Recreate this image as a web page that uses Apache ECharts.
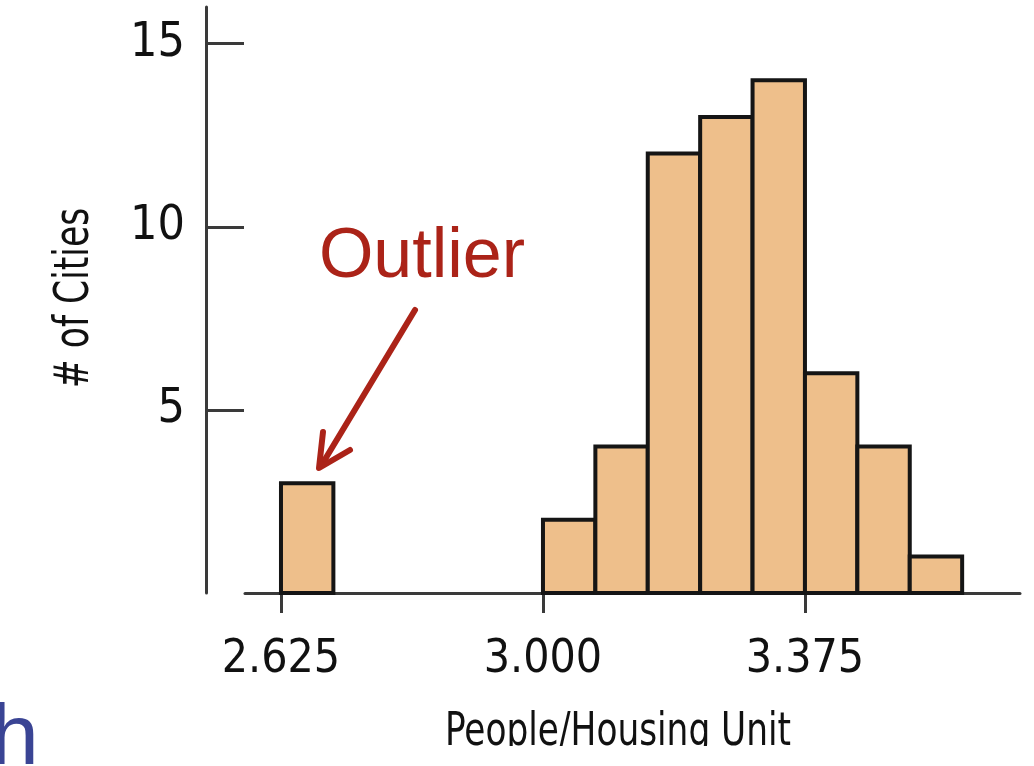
<!DOCTYPE html>
<html>
<head>
<meta charset="utf-8">
<script src="https://cdn.jsdelivr.net/npm/echarts@6/dist/echarts.min.js"></script>
<style>
	html, body { margin: 0; padding: 0; background: #fff; }
	#chart { width: 1034px; height: 766px; }
</style>
</head>
<body>
<div id="chart"></div>
<script>
// 直方图数据：每个分组的起点与城市数量
const binStarts = [2.625, 3.000, 3.075, 3.150, 3.225, 3.300, 3.375, 3.450, 3.525];
const binCounts = [3, 2, 4, 12, 13, 14, 6, 4, 1];
const binWidth = 0.075;

// 刻度
const xTicks = [2.625, 3.000, 3.375];
const yTicks = [5, 10, 15];

const NARROW = "'Liberation Sans Narrow', 'DejaVu Sans Condensed', sans-serif";
const AXIS_COLOR = '#3a3a3a';

const chart = echarts.init(document.getElementById('chart'));

const option = {
	backgroundColor: '#fff',
	animation: false,
	grid: {
		left: 245,
		right: 14,
		top: 7,
		bottom: 173
	},
	xAxis: {
		type: 'value',
		min: 2.5735,
		max: 3.6828,
		splitLine: { show: false },
		axisLine: {
			lineStyle: { color: AXIS_COLOR, width: 3 }
		},
		axisTick: {
			customValues: xTicks,
			length: 20,
			lineStyle: { color: AXIS_COLOR, width: 3 }
		},
		axisLabel: {
			customValues: xTicks,
			formatter: v => v.toFixed(3),
			color: '#111',
			fontFamily: NARROW,
			fontSize: 46,
			margin: 44
		}
	},
	yAxis: {
		type: 'value',
		min: 0,
		max: 16,
		offset: 39,
		splitLine: { show: false },
		axisLine: {
			show: true,
			lineStyle: { color: AXIS_COLOR, width: 3 }
		},
		axisTick: {
			show: true,
			customValues: yTicks,
			inside: true,
			length: 38,
			lineStyle: { color: AXIS_COLOR, width: 3 }
		},
		axisLabel: {
			customValues: yTicks,
			color: '#111',
			fontFamily: NARROW,
			fontSize: 48,
			margin: 21
		}
	},
	series: [{
		type: 'custom',
		data: binStarts.map((s, i) => [s, binCounts[i]]),
		renderItem: (params, api) => {
			const start = api.value(0);
			const p0 = api.coord([start, 0]);
			const p1 = api.coord([start + binWidth, api.value(1)]);
			return {
				type: 'rect',
				shape: {
					x: p0[0],
					y: p1[1],
					width: p1[0] - p0[0],
					height: p0[1] - p1[1]
				},
				style: {
					fill: '#eebf8b',
					stroke: '#151515',
					lineWidth: 4
				}
			};
		}
	}],
	graphic: [
		// 纵轴标题
		{
			type: 'text',
			x: 76,
			y: 298,
			rotation: Math.PI / 2,
			scaleX: 0.8,
			style: {
				text: '# of Cities',
				fill: '#111',
				font: '48px ' + NARROW,
				align: 'center',
				verticalAlign: 'middle'
			}
		},
		// 横轴标题（底部被裁掉）
		{
			type: 'text',
			x: 618,
			y: 710,
			scaleX: 0.83,
			style: {
				text: 'People/Housing Unit',
				fill: '#111',
				font: '46px ' + NARROW,
				align: 'center',
				verticalAlign: 'top'
			}
		},
		{
			type: 'rect',
			shape: { x: 120, y: 746, width: 914, height: 20 },
			style: { fill: '#fff' },
			z: 100
		},
		// 离群值标注
		{
			type: 'text',
			x: 422,
			y: 223,
			style: {
				text: 'Outlier',
				fill: '#ab2318',
				font: '70px Arial, "Liberation Sans", sans-serif',
				align: 'center',
				verticalAlign: 'top'
			}
		},
		{
			type: 'line',
			shape: { x1: 415, y1: 310, x2: 321, y2: 466 },
			style: { stroke: '#ab2318', lineWidth: 6, lineCap: 'round' }
		},
		{
			type: 'polyline',
			shape: { points: [[323, 432], [319, 468], [350, 450]] },
			style: { stroke: '#ab2318', lineWidth: 6, lineCap: 'round', lineJoin: 'round', fill: null }
		},
		// 左下角残留的标题字母
		{
			type: 'text',
			x: -9,
			y: 697,
			style: {
				text: 'h',
				fill: '#3a4494',
				font: '86px Arial, "Liberation Sans", sans-serif',
				verticalAlign: 'top'
			}
		}
	]
};

chart.setOption(option);
</script>
</body>
</html>
